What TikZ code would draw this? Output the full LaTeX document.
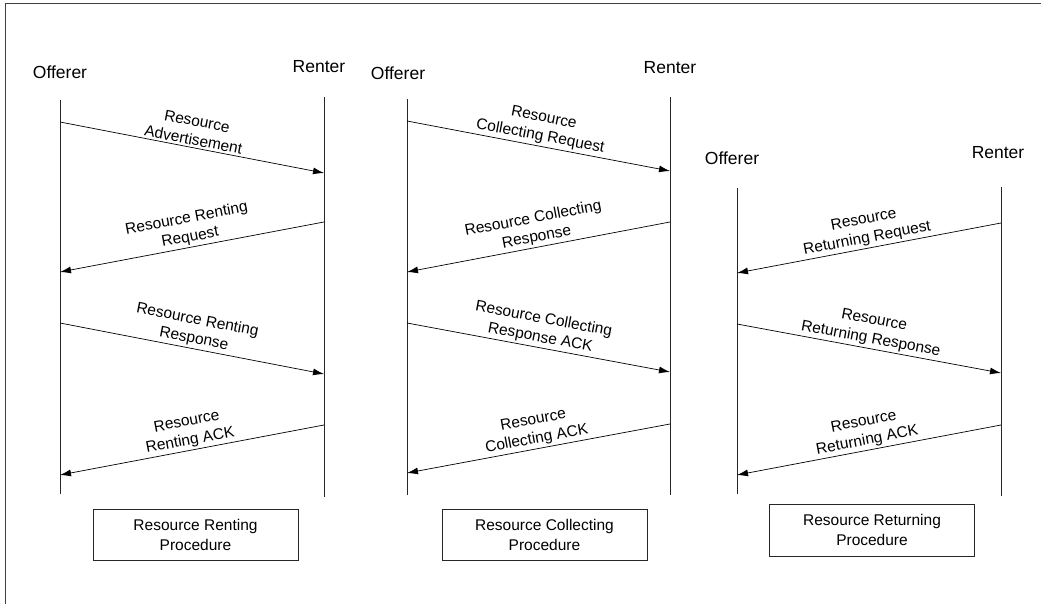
\documentclass[tikz,border=0pt]{standalone}
\usepackage{fontspec}
\setmainfont{Liberation Sans}
\usetikzlibrary{arrows.meta}
\begin{document}
\begin{tikzpicture}[x=1pt,y=-1pt,
  life/.style={draw=black!85, line width=0.9pt},
  msg/.style={draw=black, line width=0.7pt, -{Latex[length=11pt,width=7pt]}},
  msglabel/.style={midway, sloped, above, align=center, inner sep=2pt, font=\fontsize{15.5}{19}\selectfont},
  role/.style={font=\fontsize{17.5}{20}\selectfont, inner sep=0pt},
  procbox/.style={draw=black!85, line width=0.8pt, minimum width=205pt, minimum height=51pt, align=center, inner sep=0pt, font=\fontsize{15.5}{20}\selectfont},
  frameline/.style={draw=black!75, line width=1pt}
]
\useasboundingbox (0,0) rectangle (1041,604);
% frame
\coordinate (fl) at (5,604);
\coordinate (fc) at (5,4);
\coordinate (fr) at (1041,4);
\draw[frameline] (fl) -- (fc) -- (fr);

% ===== Panel 1 =====
\node[role] (o1) at (60,72) {Offerer};
\node[role] (r1) at (319,67) {Renter};
\coordinate (o1t) at (60,100);
\coordinate (o1b) at (60,494);
\coordinate (r1t) at (324,97);
\coordinate (r1b) at (324,497);
\draw[life] (o1t) -- (o1b);
\draw[life] (r1t) -- (r1b);
\coordinate (p1a) at (60,122);
\coordinate (p1b) at (324,173);
\coordinate (p1c) at (324,222);
\coordinate (p1d) at (60,272);
\coordinate (p1e) at (60,323);
\coordinate (p1f) at (324,374);
\coordinate (p1g) at (324,425);
\coordinate (p1h) at (60,475);
\draw[msg] (p1a) -- node[msglabel] {Resource\\Advertisement} (p1b);
\draw[msg] (p1c) -- node[msglabel] {Resource Renting\\Request} (p1d);
\draw[msg] (p1e) -- node[msglabel] {Resource Renting\\Response} (p1f);
\draw[msg] (p1g) -- node[msglabel] {Resource\\Renting ACK} (p1h);
\node[procbox] (b1) at (195.5,534.5) {Resource Renting\\Procedure};

% ===== Panel 2 =====
\node[role] (o2) at (398,73) {Offerer};
\node[role] (r2) at (670,68) {Renter};
\coordinate (o2t) at (407,99);
\coordinate (o2b) at (407,495);
\coordinate (r2t) at (670,97);
\coordinate (r2b) at (670,495);
\draw[life] (o2t) -- (o2b);
\draw[life] (r2t) -- (r2b);
\coordinate (p2a) at (407,121);
\coordinate (p2b) at (670,171);
\coordinate (p2c) at (670,222);
\coordinate (p2d) at (407,272);
\coordinate (p2e) at (407,323);
\coordinate (p2f) at (670,372);
\coordinate (p2g) at (670,424);
\coordinate (p2h) at (407,473);
\draw[msg] (p2a) -- node[msglabel] {Resource\\Collecting Request} (p2b);
\draw[msg] (p2c) -- node[msglabel] {Resource Collecting\\Response} (p2d);
\draw[msg] (p2e) -- node[msglabel] {Resource Collecting\\Response ACK} (p2f);
\draw[msg] (p2g) -- node[msglabel] {Resource\\Collecting ACK} (p2h);
\node[procbox] (b2) at (544.5,534.5) {Resource Collecting\\Procedure};

% ===== Panel 3 =====
\node[role] (o3) at (732,158) {Offerer};
\node[role] (r3) at (998,153) {Renter};
\coordinate (o3t) at (737,188);
\coordinate (o3b) at (737,494);
\coordinate (r3t) at (1001,187);
\coordinate (r3b) at (1001,496);
\draw[life] (o3t) -- (o3b);
\draw[life] (r3t) -- (r3b);
\coordinate (p3a) at (1001,223);
\coordinate (p3b) at (737,273);
\coordinate (p3c) at (737,324);
\coordinate (p3d) at (1001,373);
\coordinate (p3e) at (1001,425);
\coordinate (p3f) at (737,475);
\draw[msg] (p3a) -- node[msglabel] {Resource\\Returning Request} (p3b);
\draw[msg] (p3c) -- node[msglabel] {Resource\\Returning Response} (p3d);
\draw[msg] (p3e) -- node[msglabel] {Resource\\Returning ACK} (p3f);
\node[procbox, minimum height=52pt] (b3) at (872,530) {Resource Returning\\Procedure};
\end{tikzpicture}
\end{document}
